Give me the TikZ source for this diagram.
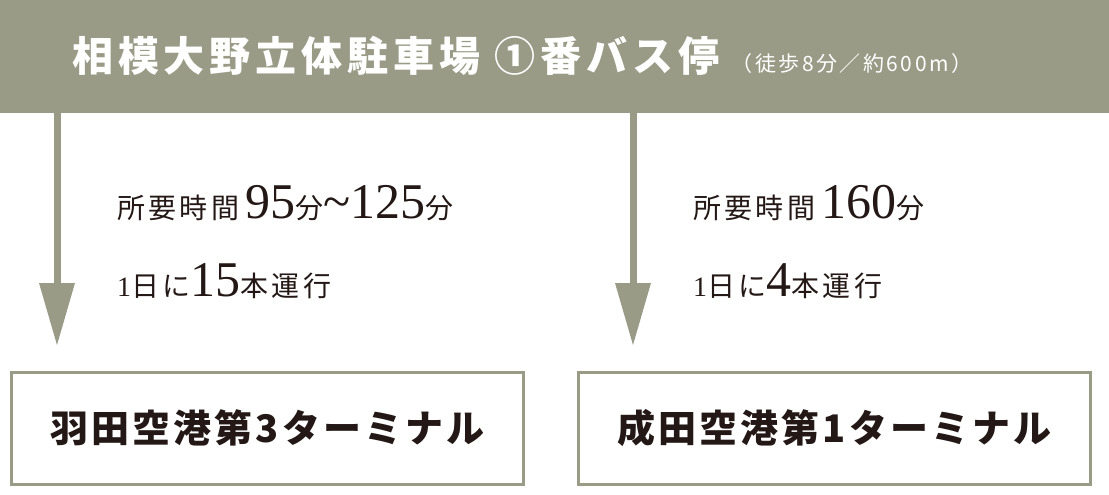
\documentclass[tikz,border=0pt]{standalone}
\usepackage{fontspec}
\setmainfont{Noto Sans CJK JP}
\newfontfamily\num{Liberation Serif}
\newfontfamily\wide[LetterSpace=12]{Noto Sans CJK JP}
\newfontfamily\wideb[LetterSpace=8]{Noto Sans CJK JP}
\definecolor{band}{HTML}{9A9B87}
\definecolor{txt}{HTML}{231815}
\newcommand\bignum[1]{{\num\fontsize{50}{52}\selectfont #1}}
\begin{document}
\begin{tikzpicture}[x=1pt,y=-1pt,
  lbl/.style={anchor=base west,inner sep=0,text=txt,font=\wide\fontsize{28}{30}\selectfont},
  dest/.style={draw=band,line width=3pt,fill=white,minimum width=512,minimum height=112,inner sep=0,text=txt,font=\wideb\bfseries\fontsize{38}{40}\selectfont},
  arr/.style={draw=band,line width=7pt}]
\useasboundingbox (0,0) rectangle (1109,495);
\fill[band] (0,0) rectangle (1109,113);
\node[anchor=base west,inner sep=0,text=white] (h) at (72,72) {\wide\bfseries\fontsize{41}{43}\selectfont 相模大野立体駐車場 ①番バス停\hspace{12pt}\mdseries\fontsize{21}{23}\selectfont（徒歩8分／約600m）};
\coordinate (a1) at (57,113); \coordinate (a2) at (633,113);
\coordinate (t1) at (57,345); \coordinate (t2) at (633,345);
\draw[arr] (a1) -- (57,290); \draw[arr] (a2) -- (633,290);
\fill[band] (39,283) -- (75,283) -- (t1) -- cycle;
\fill[band] (615,283) -- (651,283) -- (t2) -- cycle;
\node[lbl] (l1) at (117,218) {所要時間\hspace{6pt}\bignum{95}分\bignum{\string~125}分};
\node[lbl] (l2) at (117,296) {{\num 1}日に\bignum{15}本運行};
\node[lbl] (r1) at (693,218) {所要時間\hspace{6pt}\bignum{160}分};
\node[lbl] (r2) at (693,296) {{\num 1}日に\bignum{4}本運行};
\node[dest] (b1) at (267.5,428) {羽田空港第3ターミナル};
\node[dest] (b2) at (834.5,428) {成田空港第1ターミナル};
\end{tikzpicture}
\end{document}
